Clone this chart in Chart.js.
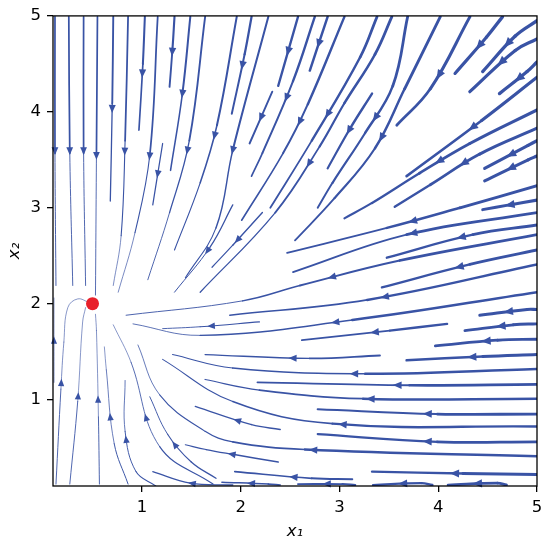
<!DOCTYPE html>
<html>
<head>
<meta charset="utf-8">
<script src="https://cdn.jsdelivr.net/npm/chart.js@4.4.1/dist/chart.umd.min.js"></script>
<style>
  html, body { margin: 0; padding: 0; background: #fff; }
  #wrap { width: 550px; height: 547px; }
</style>
</head>
<body>
<div id="wrap"><canvas id="phase"></canvas></div>
<script>
// streamlines, [x1, x2] points listed in the direction of the flow
const topLines = [
  [[0.12, 4.99], [0.12, 3.57], [0.13, 2.19]],
  [[0.26, 4.99], [0.27, 3.57], [0.30, 2.19]],
  [[0.41, 4.99], [0.41, 3.57], [0.43, 2.19]],
  [[0.55, 4.99], [0.54, 3.57], [0.53, 2.09]],
  [[0.71, 4.99], [0.70, 4.09], [0.68, 3.07]],
  [[0.86, 4.99], [0.83, 3.70], [0.79, 2.71], [0.71, 2.19]],
  [[1.03, 4.99], [1.01, 4.50], [0.97, 3.81]],
  [[1.16, 4.99], [1.08, 3.55], [0.93, 2.74], [0.76, 2.12]],
  [[1.21, 3.67], [1.11, 3.03]],
  [[1.33, 4.99], [1.31, 4.66], [1.28, 4.26]],
  [[1.49, 4.99], [1.41, 4.19], [1.29, 3.39]],
  [[1.64, 4.99], [1.48, 3.70], [1.28, 2.95], [1.06, 2.25]],
  [[1.96, 4.99], [1.76, 3.86], [1.59, 3.26], [1.33, 2.56]],
  [[2.11, 4.99], [2.04, 4.60], [1.91, 3.98]],
  [[2.28, 4.99], [1.92, 3.60], [1.75, 2.79], [1.44, 2.27]],
  [[2.32, 4.21], [2.09, 3.67]],
  [[2.58, 4.99], [2.38, 4.27]],
  [[2.75, 4.99], [2.53, 4.32], [2.22, 3.57], [2.11, 3.33]],
  [[2.88, 4.99], [2.70, 4.43]],
  [[3.05, 4.99], [2.68, 4.08], [2.43, 3.57], [2.01, 2.87]],
  [[3.38, 4.99], [3.21, 4.57], [2.72, 3.70], [2.30, 3.00]],
  [[2.22, 2.95], [1.92, 2.61], [1.71, 2.38]],
  [[1.92, 3.03], [1.69, 2.59], [1.33, 2.12]],
  [[3.53, 4.99], [3.36, 4.60], [3.05, 4.09], [2.80, 3.64], [2.35, 2.95], [1.59, 2.12]],
  [[3.33, 4.19], [3.11, 3.83], [2.88, 3.41]],
  [[3.69, 4.99], [3.54, 4.27], [3.26, 3.78], [2.93, 3.26], [2.78, 3.00]],
  [[4.02, 4.99], [3.66, 4.24], [3.36, 3.62], [2.95, 3.10], [2.55, 2.66]],
  [[4.32, 4.99], [3.92, 4.24], [3.58, 3.86]]
];

const rightLines = [
  [[4.65, 4.99], [4.49, 4.78], [4.17, 4.40]],
  [[5.00, 4.95], [4.78, 4.79], [4.45, 4.42]],
  [[5.00, 4.76], [4.78, 4.64], [4.32, 4.21]],
  [[5.00, 4.52], [4.90, 4.42], [4.62, 4.19]],
  [[5.00, 4.36], [4.44, 3.91], [3.68, 3.33]],
  [[5.00, 4.02], [4.32, 3.67], [3.81, 3.36], [3.33, 3.05], [3.05, 2.89]],
  [[5.00, 3.83], [4.42, 3.56], [3.92, 3.24], [3.56, 3.01]],
  [[5.00, 3.70], [4.91, 3.65], [4.47, 3.41]],
  [[5.00, 3.54], [4.91, 3.50], [4.47, 3.28]],
  [[5.00, 3.23], [4.22, 3.00], [3.48, 2.79], [2.47, 2.53]],
  [[5.00, 3.08], [4.72, 3.03], [4.45, 2.98]],
  [[5.00, 2.95], [3.68, 2.72], [2.53, 2.33]],
  [[5.00, 2.82], [4.35, 2.72], [3.48, 2.48]],
  [[5.00, 2.72], [3.61, 2.45], [2.60, 2.19], [2.02, 2.03], [0.84, 1.88]],
  [[5.00, 2.56], [4.32, 2.41], [3.43, 2.17]],
  [[5.00, 2.41], [3.28, 2.04], [1.89, 1.88]],
  [[5.00, 2.12], [3.13, 1.83], [1.59, 1.67], [0.91, 1.79]],
  [[5.00, 1.94], [4.90, 1.94], [4.42, 1.88]],
  [[4.09, 1.79], [3.51, 1.72], [2.62, 1.62]],
  [[5.00, 1.79], [4.76, 1.78], [4.27, 1.72]],
  [[5.00, 1.63], [4.60, 1.62], [3.97, 1.56]],
  [[5.00, 1.47], [4.45, 1.45], [3.68, 1.41]]
];

const lowerLines = [
  [[2.19, 1.81], [1.59, 1.76], [1.21, 1.74]],
  [[3.41, 1.46], [2.70, 1.43], [1.64, 1.47]],
  [[5.00, 1.32], [3.26, 1.27], [1.92, 1.33], [1.31, 1.47]],
  [[5.00, 1.16], [3.71, 1.15], [2.17, 1.18]],
  [[5.00, 1.01], [3.24, 1.01], [2.19, 1.10], [1.64, 1.21]],
  [[5.00, 0.85], [3.99, 0.85], [2.78, 0.90]],
  [[5.00, 0.72], [2.93, 0.75], [1.92, 0.98], [1.21, 1.42]],
  [[2.40, 0.69], [2.11, 0.74], [1.54, 0.93]],
  [[5.00, 0.56], [3.99, 0.56], [2.78, 0.64]],
  [[5.00, 0.41], [2.65, 0.48], [1.92, 0.56], [1.64, 0.67], [1.18, 1.05], [0.96, 1.57]],
  [[2.38, 0.35], [1.92, 0.43], [1.65, 0.48], [1.44, 0.53]],
  [[5.00, 0.22], [4.25, 0.23], [3.33, 0.25]],
  [[3.13, 0.17], [2.72, 0.18], [1.94, 0.25]],
  [[1.75, 0.18], [1.50, 0.35], [1.26, 0.64], [1.08, 1.03]],
  [[2.40, 0.11], [2.28, 0.12], [1.81, 0.14]],
  [[3.16, 0.11], [3.03, 0.12], [2.58, 0.12]],
  [[3.94, 0.11], [3.83, 0.13], [3.34, 0.11]],
  [[4.69, 0.11], [4.60, 0.13], [4.10, 0.11]],
  [[1.92, 0.11], [1.49, 0.13], [1.11, 0.25]],
  [[1.72, 0.12], [1.18, 0.51], [0.89, 1.39], [0.71, 1.78]]
];

const leftLines = [
  [[0.11, 1.18], [0.11, 1.62], [0.11, 2.06]],
  [[0.13, 0.12], [0.18, 1.11], [0.21, 1.60], [0.25, 1.96], [0.35, 2.05], [0.47, 2.01]],
  [[0.27, 0.12], [0.35, 0.98], [0.40, 1.81], [0.43, 1.96]],
  [[0.57, 0.12], [0.56, 0.82], [0.54, 1.72], [0.53, 1.89]],
  [[0.86, 0.12], [0.72, 0.54], [0.64, 1.31], [0.62, 1.55]],
  [[1.14, 0.10], [0.94, 0.25], [0.83, 0.67], [0.83, 1.20]]
];

const equilibrium = [0.5, 2];
const xTicks = [1, 2, 3, 4, 5];
const yTicks = [1, 2, 3, 4, 5];

const lineColor = '#3953a5';
const dotColor = '#e8202a';
const font = 'DejaVu Sans';

// thicker where the flow is faster, i.e. far from the equilibrium
function speedWidth(x, y) {
  const dx = x - equilibrium[0];
  const dy = (y - equilibrium[1]) * (y < equilibrium[1] ? 0.6 : 1);
  const w = 0.35 + 0.6 * Math.hypot(dx, dy);
  return Math.max(0.6, Math.min(3.3, w));
}

const streamLines = [...topLines, ...rightLines, ...lowerLines, ...leftLines];

const datasets = streamLines.map(pts => ({
  data: pts.map(([x, y]) => ({ x, y })),
  isStream: true,
  showLine: true,
  borderColor: lineColor,
  borderWidth: 1,
  borderCapStyle: 'round',
  borderJoinStyle: 'round',
  pointRadius: 0,
  pointHoverRadius: 0,
  tension: 0.4,
  order: 1,
  segment: {
    borderWidth: c => {
      const a = pts[c.p0DataIndex], b = pts[c.p1DataIndex];
      return speedWidth((a[0] + b[0]) / 2, (a[1] + b[1]) / 2);
    }
  }
}));

datasets.push({
  data: [{ x: equilibrium[0], y: equilibrium[1] }],
  pointRadius: 6.5,
  pointBackgroundColor: dotColor,
  pointBorderWidth: 0,
  order: 0
});

// one arrow head half way along each streamline
const arrowHeads = {
  id: 'arrowHeads',
  afterDatasetDraw(chart, args) {
    const ds = chart.data.datasets[args.index];
    if (!ds.isStream) return;
    const els = args.meta.data;
    const path = [];
    for (let i = 0; i < els.length - 1; i++) {
      const a = els[i], b = els[i + 1];
      const c1x = a.cp2x ?? a.x, c1y = a.cp2y ?? a.y;
      const c2x = b.cp1x ?? b.x, c2y = b.cp1y ?? b.y;
      for (let k = i ? 1 : 0; k <= 20; k++) {
        const t = k / 20, u = 1 - t;
        path.push([
          u * u * u * a.x + 3 * u * u * t * c1x + 3 * u * t * t * c2x + t * t * t * b.x,
          u * u * u * a.y + 3 * u * u * t * c1y + 3 * u * t * t * c2y + t * t * t * b.y
        ]);
      }
    }
    const acc = [0];
    for (let i = 1; i < path.length; i++) {
      acc.push(acc[i - 1] + Math.hypot(path[i][0] - path[i - 1][0], path[i][1] - path[i - 1][1]));
    }
    const half = acc[acc.length - 1] / 2;
    let j = 1;
    while (j < path.length - 1 && acc[j] < half) j++;
    const p0 = path[j - 1], p1 = path[j];
    const f = (half - acc[j - 1]) / ((acc[j] - acc[j - 1]) || 1);
    const mx = p0[0] + (p1[0] - p0[0]) * f;
    const my = p0[1] + (p1[1] - p0[1]) * f;
    let dx = p1[0] - p0[0], dy = p1[1] - p0[1];
    const n = Math.hypot(dx, dy) || 1;
    dx /= n; dy /= n;
    const w = speedWidth(chart.scales.x.getValueForPixel(mx), chart.scales.y.getValueForPixel(my));
    const len = 6.5 + w, hw = 2.8 + 0.45 * w;
    const ctx = chart.ctx;
    ctx.save();
    ctx.fillStyle = lineColor;
    ctx.beginPath();
    ctx.moveTo(mx + dx * len / 2, my + dy * len / 2);
    ctx.lineTo(mx - dx * len / 2 - dy * hw, my - dy * len / 2 + dx * hw);
    ctx.lineTo(mx - dx * len / 2 + dy * hw, my - dy * len / 2 - dx * hw);
    ctx.closePath();
    ctx.fill();
    ctx.restore();
  }
};

const frame = {
  id: 'frame',
  afterDraw(chart) {
    const { ctx, chartArea: a } = chart;
    ctx.save();
    ctx.strokeStyle = '#000';
    ctx.lineWidth = 1.3;
    ctx.strokeRect(a.left, a.top, a.right - a.left, a.bottom - a.top);
    ctx.restore();
  }
};

const tickGrid = { display: true, drawOnChartArea: false, drawTicks: true, tickLength: 6, color: '#000', lineWidth: 1.3 };

new Chart(document.getElementById('phase'), {
  type: 'scatter',
  data: { datasets },
  plugins: [arrowHeads, frame],
  options: {
    responsive: true,
    maintainAspectRatio: false,
    animation: false,
    events: [],
    layout: { padding: { top: 13, right: 13, left: 0, bottom: 0 } },
    plugins: { legend: { display: false }, tooltip: { enabled: false } },
    scales: {
      x: {
        type: 'linear',
        min: 0.1,
        max: 5,
        afterBuildTicks: s => { s.ticks = xTicks.map(v => ({ value: v })); },
        afterFit: s => { s.height = 61; },
        grid: tickGrid,
        border: { display: false },
        ticks: { color: '#000', padding: 6, maxRotation: 0, font: { family: font, size: 16.5 } },
        title: {
          display: true,
          text: 'x₁',
          color: '#000',
          font: { family: font, size: 16.5, style: 'italic' },
          padding: { top: 0, bottom: 5 }
        }
      },
      y: {
        type: 'linear',
        min: 0.1,
        max: 5,
        afterBuildTicks: s => { s.ticks = yTicks.map(v => ({ value: v })); },
        afterFit: s => { s.width = 53; },
        grid: tickGrid,
        border: { display: false },
        ticks: { color: '#000', padding: 6, font: { family: font, size: 16.5 } },
        title: {
          display: true,
          text: 'x₂',
          color: '#000',
          font: { family: font, size: 16.5, style: 'italic' },
          padding: { top: 5, bottom: 0 }
        }
      }
    }
  }
});
</script>
</body>
</html>
